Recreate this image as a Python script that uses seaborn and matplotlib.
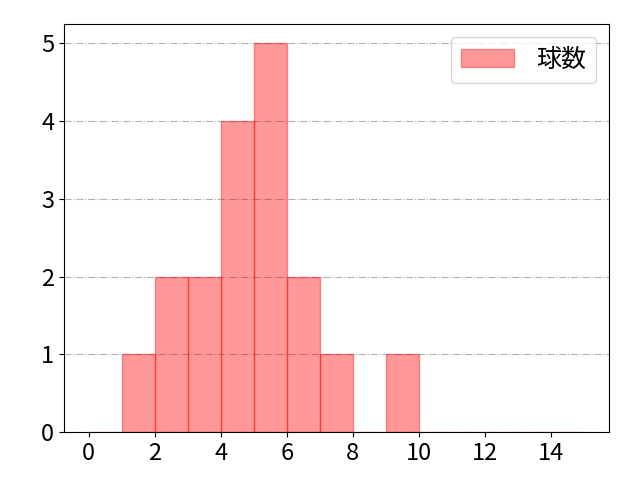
import matplotlib
matplotlib.use("Agg")
import matplotlib.pyplot as plt
import seaborn as sns
import numpy as np
import pandas as pd

# pitch counts (values) with their frequencies
pitch_values = [1, 2, 3, 4, 5, 6, 7, 9]
pitch_counts = [1, 2, 2, 4, 5, 2, 1, 1]
bin_edges = list(range(0, 16))
label = "球数"

data = pd.DataFrame({label: np.repeat(pitch_values, pitch_counts)})

plt.rcParams['font.family'] = ['Noto Sans CJK JP', 'DejaVu Sans']

fig, ax = plt.subplots(figsize=(6.4, 4.8), dpi=100)
fig.subplots_adjust(left=0.1, right=0.951, top=0.95, bottom=0.1)
sns.histplot(data=data, x=label, bins=bin_edges, facecolor=(1, 0, 0, 0.4),
             edgecolor=(1, 0, 0, 0.4), linewidth=1, label=label, ax=ax)
ax.set_xlim(-0.75, 15.75)
ax.set_xticks(range(0, 16, 2))
ax.set_yticks(range(0, 6))
ax.set_ylim(0, 5.25)
ax.set_xlabel("")
ax.set_ylabel("")
ax.tick_params(labelsize=17)
ax.grid(axis='y', linestyle='-.', color='#b0b0b0', linewidth=0.8)
ax.set_axisbelow(True)
ax.legend(fontsize=18, loc='upper right', handlelength=2.1, handletextpad=0.9)
fig.savefig("out.png", dpi=100)
